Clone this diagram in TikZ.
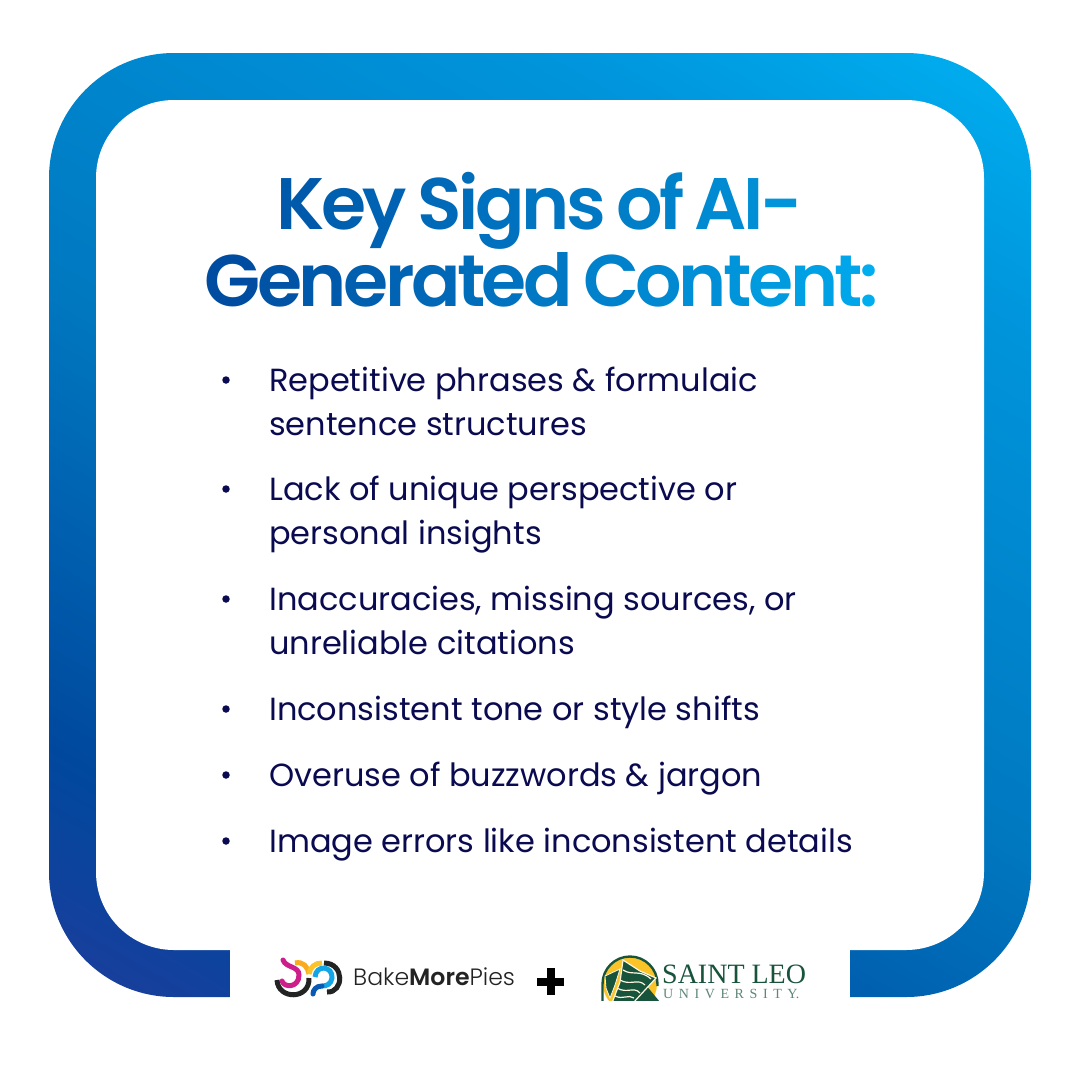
\documentclass[tikz,border=0pt]{standalone}
\usepackage{fontspec}
\setmainfont{Poppins}[BoldFont={Poppins SemiBold}]
\newfontfamily\serifname{Liberation Serif}
\newfontfamily\lightname{Poppins Light}[BoldFont={Poppins SemiBold}]
\usetikzlibrary{positioning}
\definecolor{bodynavy}{RGB}{10, 10, 80}
\definecolor{titledark}{RGB}{0, 76, 160}
\definecolor{titlelight}{RGB}{0, 174, 239}
\definecolor{leogreen}{RGB}{24, 84, 60}
\definecolor{leoyellow}{RGB}{250, 196, 40}
\definecolor{piemagenta}{RGB}{205, 30, 140}
\definecolor{pieorange}{RGB}{250, 170, 30}
\definecolor{piecyan}{RGB}{20, 165, 230}
\definecolor{pieblue}{RGB}{10, 90, 180}
\definecolor{pieblack}{RGB}{35, 35, 35}
\definecolor{framea}{RGB}{26, 62, 156}
\definecolor{frameb}{RGB}{0, 72, 158}
\definecolor{framec}{RGB}{0, 120, 192}
\definecolor{framed}{RGB}{0, 149, 220}
\definecolor{framee}{RGB}{0, 174, 239}
\pgfdeclareverticalshading{framegrad}{100bp}{
    color(0bp)=(framea);
    color(17bp)=(framea);
    color(27bp)=(frameb);
    color(48bp)=(framec);
    color(72bp)=(framed);
    color(83bp)=(framee);
    color(100bp)=(framee)}

\begin{document}
\begin{tikzpicture}[
    x=1pt, y=-1pt,
    bodyline/.style={anchor=base west, inner sep=0pt, font=\fontsize{32}{44}\selectfont, text=bodynavy},
    bulletdot/.style={circle, fill=bodynavy, inner sep=0pt, minimum size=7.5pt},
    titleline/.style={anchor=base, inner sep=0pt, font=\fontsize{73}{73}\selectfont\bfseries},
    piearc/.style={line width=5pt, line cap=round},
    wave/.style={draw=white!85!leoyellow, line width=1.2pt}
]
    \useasboundingbox (0,0) rectangle (1080,1080);
    \fill[white] (0,0) rectangle (1080,1080);

    % frame
    \shade[shading=framegrad, shading angle=-30, rounded corners=125pt] (49,53) rectangle (1031,997);
    \fill[white, rounded corners=78pt] (96,100) rectangle (984,950);
    \fill[white] (230,940) rectangle (850,1000);

    % title
    \node[titleline] (title1) at (538,229) {\foreach \ch/\pct in {K/86,e/81,y/77,{\ }/74,S/69,i/66,g/62,n/58,s/55,{\ }/52,o/49,f/45,{\ }/42,A/37,I/33,-/27}{\textcolor{titledark!\pct!titlelight}{\ch}\kern-3.5pt}};
    \node[titleline] (title2) at (540,306) {\foreach \ch/\pct in {G/100,e/93,n/87,e/81,r/76,a/71,t/66,e/61,d/55,{\ }/52,C/46,o/39,n/32,t/27,e/21,n/14,t/8,:/0}{\textcolor{titledark!\pct!titlelight}{\ch}\kern-3.5pt}};

    % list
    \node[bulletdot] (dot1) at (226,380) {};
    \node[bulletdot] (dot2) at (226,489) {};
    \node[bulletdot] (dot3) at (226,599) {};
    \node[bulletdot] (dot4) at (226,709) {};
    \node[bulletdot] (dot5) at (226,775) {};
    \node[bulletdot] (dot6) at (226,841) {};
    \node[bodyline] (item1a) at (269,391) {Repetitive phrases \& formulaic};
    \node[bodyline] (item1b) at (269,435) {sentence structures};
    \node[bodyline] (item2a) at (269,500) {Lack of unique perspective or};
    \node[bodyline] (item2b) at (269,544) {personal insights};
    \node[bodyline] (item3a) at (269,610) {Inaccuracies, missing sources, or};
    \node[bodyline] (item3b) at (269,654) {unreliable citations};
    \node[bodyline] (item4) at (269,720) {Inconsistent tone or style shifts};
    \node[bodyline] (item5) at (269,786) {Overuse of buzzwords \& jargon};
    \node[bodyline] (item6) at (269,852) {Image errors like inconsistent details};

    % first logo
    \draw[piearc, pieblack, line cap=butt] (277,980) .. controls (278,1000) and (310,1000) .. (309,978);
    \draw[piearc, piemagenta] (283,960) .. controls (286,968) and (299,966) .. (299,975) .. controls (299,988) and (284,988) .. (282,981);
    \draw[piearc, pieorange, line cap=butt] (295,963) .. controls (303,961) and (308,967) .. (309,974);
    \draw[piearc, leoyellow, line cap=butt] (309,974) .. controls (310,967) and (315,963) .. (322,963);
    \draw[piearc, pieblack, line cap=butt] (324,963) .. controls (345,963) and (344,993) .. (327,992);
    \draw[piearc, piecyan, line cap=butt] (315,977) .. controls (316,964) and (333,966) .. (332,978) .. controls (331,984) and (327,986) .. (322,986);
    \draw[piearc, pieblue] (322,986) .. controls (316,986) and (313,990) .. (313,994);
    \node[anchor=base west, inner sep=0pt, font=\lightname\fontsize{23.6}{23.6}\selectfont, text=pieblack] (bakename) at (353,985) {Bake\textbf{More}Pies};

    % plus
    \node[fill=black, minimum width=27pt, minimum height=8pt, inner sep=0pt] (plusbar) at (550.5,981.5) {};
    \node[fill=black, minimum width=8pt, minimum height=27pt, inner sep=0pt] (plusstem) at (550.5,981.5) {};

    % second logo
    \begin{scope}
        \clip (595,950) rectangle (665,1000);
        \fill[leoyellow] (630,984) circle[radius=27];
        \draw[leogreen, line width=2.4pt] (602.5,1002) -- (602.5,984) arc[start angle=180, end angle=360, radius=27.5] -- (657.5,986);
        \fill[leogreen] (645,984) -- (660,1002) -- (620,1002) -- cycle;
        \fill[leogreen, draw=white!85!leoyellow, line width=0.8pt] (605,976) -- (620,969) -- (615,985) -- (610,998) -- (606,988) -- cycle;
        \fill[leogreen] (623,960) -- (640,971) -- (656,978) -- (634,1002) -- (612,1003) -- (620,982) -- cycle;
        \draw[wave] (623,960) -- (640,971) -- (656,978) -- (634,1002) -- (612,1003) -- (620,982) -- cycle;
        \draw[wave] (623,970) .. controls (632,976) and (640,969) .. (651,979);
        \draw[wave] (620,980) .. controls (630,986) and (638,978) .. (645,985);
        \draw[wave] (617,988) .. controls (627,994) and (634,986) .. (640,993);
        \draw[wave] (615,996) .. controls (623,1000) and (628,994) .. (634,998);
    \end{scope}
    \node[anchor=base west, inner sep=0pt, font=\serifname\fontsize{28}{28}\selectfont, text=leogreen] (leoname) at (662,983) {SAINT LEO};
    \node[anchor=base west, inner sep=0pt, font=\serifname\fontsize{14}{14}\selectfont, text=leogreen!70!white] (leouni) at (663,998) {U\hspace{5.6pt}N\hspace{5.6pt}I\hspace{5.6pt}V\hspace{5.6pt}E\hspace{5.6pt}R\hspace{5.6pt}S\hspace{5.6pt}I\hspace{5.6pt}T\hspace{5.6pt}Y.};
\end{tikzpicture}
\end{document}
